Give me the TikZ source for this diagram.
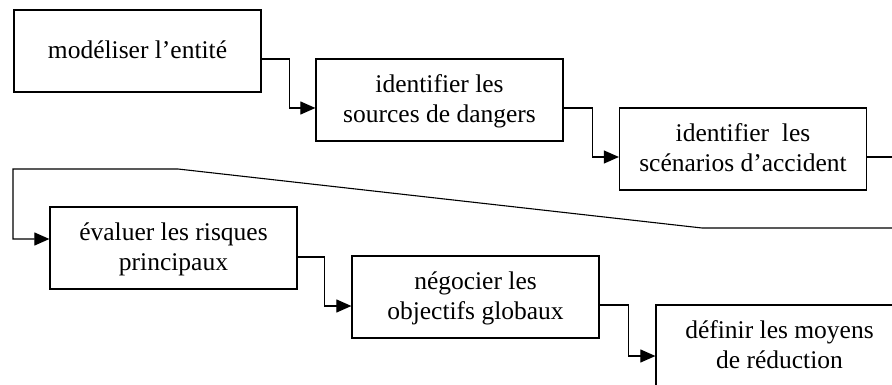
\documentclass[tikz,border=0pt]{standalone}
\usepackage{fontspec}
\setmainfont{Liberation Serif}
\usetikzlibrary{arrows.meta}
\begin{document}
\begin{tikzpicture}[x=1pt,y=-1pt,
  stepbox/.style={draw,line width=1.2pt,minimum width=247pt,minimum height=82pt,
    inner sep=0pt,align=center,text depth=0.25em,
    font=\fontsize{25.5}{30}\selectfont},
  arr/.style={line width=1.1pt,-{Triangle[length=15pt,width=13pt]}},
  lin/.style={line width=1.1pt}]
\useasboundingbox (0,0) rectangle (892,385);
\clip (0,0) rectangle (892,385);
\node[stepbox] (b1) at (137.5,51) {modéliser l’entité};
\node[stepbox] (b2) at (439.5,100) {identifier les\\sources de dangers};
\node[stepbox] (b3) at (743,149) {identifier~ les\\scénarios d’accident};
\node[stepbox] (b4) at (173.5,248) {évaluer les risques\\principaux};
\node[stepbox] (b5) at (475.5,297) {négocier les\\objectifs globaux};
\node[stepbox] (b6) at (779.5,346) {définir les moyens\\de réduction};
\coordinate (out3) at (900,157);
\coordinate (ret) at (900,228);
\coordinate (k1) at (702,228);
\coordinate (k2) at (178,169);
\coordinate (k3) at (13,169);
\draw[arr] ([yshift=-8pt]b1.east) -- ++(28,0) |- ([yshift=-8pt]b2.west);
\draw[arr] ([yshift=-8pt]b2.east) -- ++(29,0) |- ([yshift=-8pt]b3.west);
\draw[lin] ([yshift=-8pt]b3.east) -- (out3);
\draw[arr] (ret) -- (k1) -- (k2) -- (k3) |- ([yshift=9pt]b4.west);
\draw[arr] ([yshift=-9pt]b4.east) -- ++(27,0) |- ([yshift=-9pt]b5.west);
\draw[arr] ([yshift=-8pt]b5.east) -- ++(29,0) |- ([yshift=-10pt]b6.west);
\end{tikzpicture}
\end{document}
